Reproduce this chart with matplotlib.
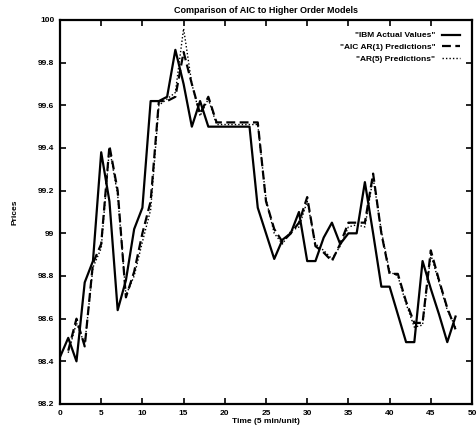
import numpy as np
import matplotlib
matplotlib.use('Agg')
import matplotlib.pyplot as plt
from matplotlib.ticker import FuncFormatter

# time axis (5 min/unit)
t_actual = list(range(0, 49))
actual = [98.42, 98.51, 98.40, 98.77, 98.87, 99.38, 99.15, 98.64, 98.78, 99.02,
          99.12, 99.62, 99.62, 99.64, 99.86, 99.70, 99.50, 99.62, 99.50, 99.50,
          99.50, 99.50, 99.50, 99.50, 99.12, 99.00, 98.88, 98.97, 99.00, 99.10,
          98.87, 98.87, 98.98, 99.05, 98.95, 99.00, 99.00, 99.24, 99.00, 98.75,
          98.75, 98.62, 98.49, 98.49, 98.87, 98.74, 98.62, 98.49, 98.61]

t_pred = list(range(1, 49))
ar1 = [98.45, 98.60, 98.47, 98.86, 98.95, 99.41, 99.20, 98.70, 98.82, 99.00,
       99.15, 99.62, 99.62, 99.64, 99.85, 99.70, 99.56, 99.64, 99.52, 99.52,
       99.52, 99.52, 99.52, 99.52, 99.15, 99.02, 98.96, 99.00, 99.05, 99.17,
       98.94, 98.91, 98.87, 98.95, 99.05, 99.05, 99.05, 99.28, 99.00, 98.81,
       98.81, 98.68, 98.58, 98.58, 98.92, 98.78, 98.65, 98.55]
ar5 = [98.44, 98.58, 98.48, 98.84, 98.93, 99.40, 99.18, 98.71, 98.80, 98.96,
       99.11, 99.60, 99.63, 99.66, 99.96, 99.70, 99.55, 99.63, 99.51, 99.51,
       99.51, 99.51, 99.51, 99.51, 99.16, 99.00, 98.95, 99.01, 99.03, 99.15,
       98.95, 98.92, 98.88, 98.94, 99.03, 99.04, 99.03, 99.26, 99.01, 98.82,
       98.80, 98.67, 98.56, 98.57, 98.90, 98.77, 98.64, 98.56]

plt.rcParams['font.family'] = ['Liberation Sans', 'DejaVu Sans']
plt.rcParams['font.weight'] = 'bold'

fig = plt.figure(figsize=(4.76, 4.34), dpi=100)
ax = fig.add_axes([60/476, 30/434, 412/476, 384/434])

ax.plot(t_actual, actual, color='black', lw=1.6, ls='-', label='"IBM Actual Values"')
ax.plot(t_pred, ar1, color='black', lw=1.6, ls=(0, (4, 2)), label='"AIC AR(1) Predictions"')
ax.plot(t_pred, ar5, color='black', lw=1.0, ls=(0, (1, 1.5)), label='"AR(5) Predictions"')

ax.set_xlim(0, 50)
ax.set_ylim(98.2, 100)
ax.set_xticks(np.arange(0, 51, 5))
ax.set_yticks(np.arange(98.2, 100.01, 0.2))
ax.yaxis.set_major_formatter(FuncFormatter(lambda v, p: '%g' % round(v, 1)))
ax.tick_params(direction='in', top=True, right=True, length=4, width=1.2,
               labelsize=6, pad=4)
for s in ax.spines.values():
    s.set_linewidth(1.6)

ax.set_title('Comparison of AIC to Higher Order Models', fontsize=6.5,
             fontweight='bold', pad=5)
ax.set_xlabel('Time (5 min/unit)', fontsize=6, fontweight='bold', labelpad=1)
ax.set_ylabel('Prices', fontsize=6, fontweight='bold', labelpad=14)

leg = ax.legend(loc='upper right', frameon=False, markerfirst=False, fontsize=6,
                handlelength=2.2, handletextpad=0.8, labelspacing=0.45,
                borderaxespad=1.0)

fig.savefig('out.png', dpi=100)
